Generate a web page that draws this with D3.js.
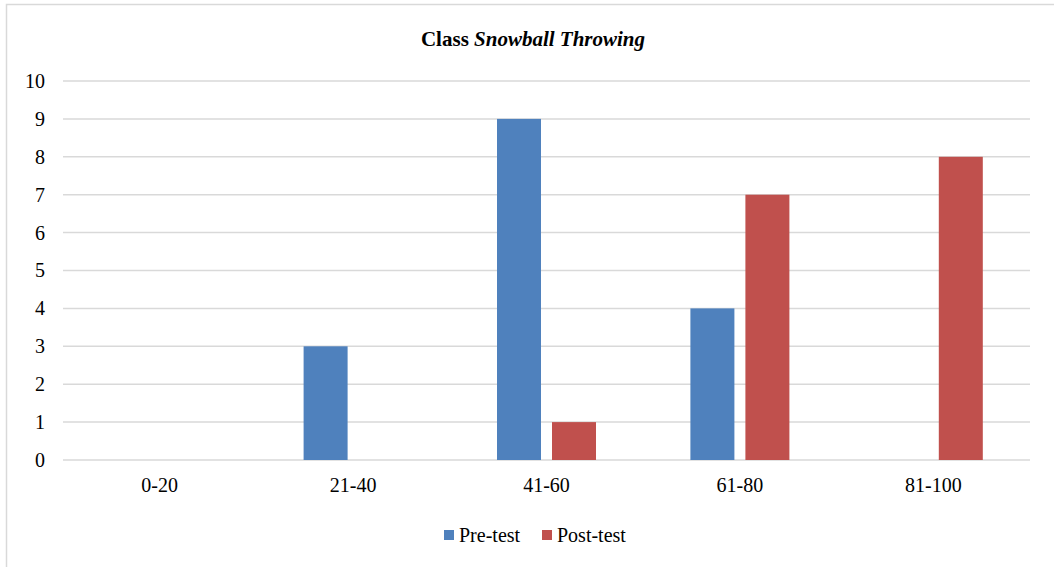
<!DOCTYPE html>
<html>
<head>
<meta charset="utf-8">
<script src="https://cdn.jsdelivr.net/npm/d3@7"></script>
<style>
  body { margin: 0; background: #fff; }
  text { font-family: "Liberation Serif", "Times New Roman", serif; fill: #000; }
</style>
</head>
<body>
<div id="chart"></div>
<script>
const categories = ["0-20", "21-40", "41-60", "61-80", "81-100"];
const preTest = [0, 3, 9, 4, 0];
const postTest = [0, 0, 1, 7, 8];
const yTicks = [0, 1, 2, 3, 4, 5, 6, 7, 8, 9, 10];
const seriesNames = ["Pre-test", "Post-test"];
const colors = ["#4F81BD", "#C0504D"];

const W = 1054, H = 567;
const margin = {left: 63, right: 24, top: 81, bottom: 107};
const width = W - margin.left - margin.right;
const height = H - margin.top - margin.bottom;

const svg = d3.select("#chart").append("svg")
  .attr("width", W).attr("height", H);

// outer frame
svg.append("rect")
  .attr("x", 6.5).attr("y", 4.5)
  .attr("width", W + 10).attr("height", H + 10)
  .attr("fill", "none").attr("stroke", "#D9D9D9").attr("stroke-width", 1.5);

svg.append("text")
  .attr("x", 533).attr("y", 46)
  .attr("text-anchor", "middle")
  .attr("font-size", 21).attr("font-weight", "bold")
  .call(t => {
    t.append("tspan").text("Class ");
    t.append("tspan").attr("font-style", "italic").text("Snowball Throwing");
  });

const g = svg.append("g")
  .attr("transform", "translate(" + margin.left + "," + margin.top + ")");

const x = d3.scaleBand().domain(categories).range([0, width]);
const y = d3.scaleLinear().domain([0, 10]).range([height, 0]);

// gridlines
g.append("g")
  .selectAll("line")
  .data(yTicks)
  .enter().append("line")
    .attr("x1", 0).attr("x2", width)
    .attr("y1", d => y(d)).attr("y2", d => y(d))
    .attr("stroke", "#D9D9D9").attr("stroke-width", 1.5);

const yAxis = g.append("g")
  .call(d3.axisLeft(y).tickValues(yTicks).tickSize(0).tickPadding(18));
yAxis.select(".domain").remove();
yAxis.selectAll("text").attr("font-size", 20).attr("font-family", "Liberation Serif");

const xAxis = g.append("g")
  .attr("transform", "translate(0," + height + ")")
  .call(d3.axisBottom(x).tickSize(0));
xAxis.select(".domain").remove();
xAxis.selectAll("text").attr("font-size", 20).attr("font-family", "Liberation Serif")
  .attr("y", 32).attr("dy", 0);

const barW = 44, gap = 11;
const data = categories.map((c, i) => ({cat: c, vals: [preTest[i], postTest[i]]}));

const groups = g.append("g").selectAll("g")
  .data(data).enter().append("g")
  .attr("transform", d => "translate(" + (x(d.cat) + x.bandwidth() / 2) + ",0)");

groups.selectAll("rect")
  .data(d => d.vals.map((v, s) => ({v, s})))
  .enter().append("rect")
    .attr("x", d => d.s === 0 ? -gap / 2 - barW : gap / 2)
    .attr("width", barW)
    .attr("y", d => y(d.v))
    .attr("height", d => y(0) - y(d.v))
    .attr("fill", d => colors[d.s]);

// legend
const legend = svg.append("g").attr("transform", "translate(444,530)");
const items = legend.selectAll("g").data(seriesNames).enter().append("g")
  .attr("transform", (d, i) => "translate(" + (i * 98) + ",0)");
items.append("rect").attr("width", 10).attr("height", 10)
  .attr("fill", (d, i) => colors[i]);
items.append("text").attr("x", 15).attr("y", 12)
  .attr("font-size", 20).text(d => d);
</script>
</body>
</html>
